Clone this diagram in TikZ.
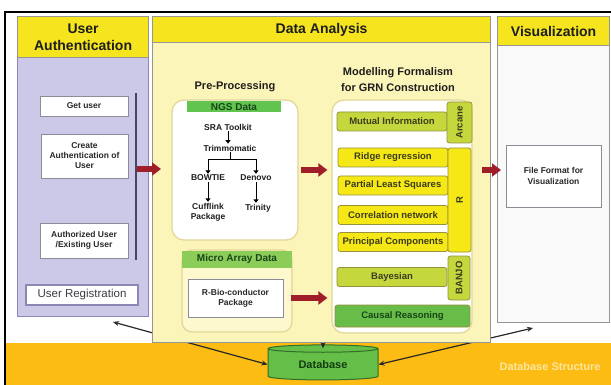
\documentclass[tikz,border=0pt]{standalone}
\usepackage{fontspec}
\setmainfont{Liberation Sans}
\usetikzlibrary{arrows.meta,shapes.geometric}

\begin{document}
\begin{tikzpicture}[x=1pt,y=1pt,yscale=-1,
    panel/.style={draw={rgb, 255:red, 150; green, 150; blue, 150}, line width=1.2pt, anchor=north west, inner sep=0pt},
    panelhead/.style={panel, fill={rgb, 255:red, 245; green, 228; blue, 30}, font=\fontsize{14}{17}\selectfont\bfseries, text={rgb, 255:red, 30; green, 30; blue, 30}, align=center},
    smallbox/.style={draw={rgb, 255:red, 140; green, 140; blue, 150}, fill=white, line width=0.8pt, inner sep=1pt, align=center, font=\fontsize{8.5}{10}\selectfont\bfseries, text={rgb, 255:red, 40; green, 40; blue, 40}},
    sectitle/.style={font=\fontsize{11}{16}\selectfont\bfseries, align=center, inner sep=0.75pt, text={rgb, 255:red, 30; green, 30; blue, 30}},
    treetext/.style={font=\fontsize{8.5}{10}\selectfont\bfseries, inner sep=1pt, align=center, text={rgb, 255:red, 30; green, 30; blue, 30}},
    treearrow/.style={line width=1pt, -{Triangle[length=3.5pt,width=5pt]}},
    roundbox/.style={draw={rgb, 255:red, 225; green, 214; blue, 150}, line width=1.2pt, rounded corners=12pt, fill=white, inner sep=0pt},
    databar/.style={inner sep=0pt, font=\fontsize{10}{11}\selectfont\bfseries, text={rgb, 255:red, 25; green, 70; blue, 25}},
    modelitem/.style={draw={rgb, 255:red, 150; green, 145; blue, 60}, line width=0.8pt, rounded corners=2.5pt, minimum width=110, minimum height=19, inner sep=0pt, font=\fontsize{9.5}{10}\selectfont\bfseries, text={rgb, 255:red, 60; green, 60; blue, 30}},
    yellowitem/.style={modelitem, fill={rgb, 255:red, 246; green, 232; blue, 22}},
    limeitem/.style={modelitem, fill={rgb, 255:red, 196; green, 216; blue, 62}},
    redarrow/.style={draw={rgb, 255:red, 160; green, 30; blue, 42}, line width=6.5pt, -{Triangle[length=9pt,width=13pt]}},
    dbline/.style={draw={rgb, 255:red, 40; green, 40; blue, 40}, line width=1.2pt},
    dbarrow/.style={dbline, -{Stealth[length=6pt,width=5pt]}},
    dbarrows/.style={dbline, {Stealth[length=6pt,width=5pt]}-{Stealth[length=6pt,width=5pt]}},
  ]
  \useasboundingbox (0,0) rectangle (611,385);

  %Shape: Rectangle [database band]
  \fill [fill={rgb, 255:red, 252; green, 188; blue, 20}] (5,343) rectangle (611,385);
  %Straight Lines [outer frame]
  \draw [line width=1.2pt] (5,385) -- (5,12) -- (611,12);

  % Database
  \node [cylinder, shape border rotate=90, aspect=0.15, draw={rgb, 255:red, 50; green, 110; blue, 40}, line width=1pt, fill={rgb, 255:red, 100; green, 190; blue, 72}, minimum width=110, minimum height=35, inner sep=0pt, font=\fontsize{11}{13}\selectfont\bfseries, text={rgb, 255:red, 20; green, 60; blue, 20}] (db) at (323,364.5) {Database};
  \node [font=\fontsize{11}{13}\selectfont\bfseries, text={rgb, 255:red, 253; green, 230; blue, 160}] (dbs) at (550,367) {Database Structure};

  \coordinate (authtip) at (113,322);
  \coordinate (vistip) at (533,328);
  \draw [dbarrows] (authtip) -- (db.west);
  \draw [dbarrows] (vistip) -- (db.east);

  %Shape: Panels
  \node [panel, draw={rgb, 255:red, 140; green, 135; blue, 180}, fill={rgb, 255:red, 204; green, 200; blue, 232}, minimum width=131, minimum height=300] (auth) at (17,16) {};
  \node [panelhead, minimum width=131, minimum height=41] (authhead) at (17,16) {User\\Authentication};
  \node [panel, fill={rgb, 255:red, 252; green, 245; blue, 185}, minimum width=338, minimum height=326] (ana) at (152,16) {};
  \node [panelhead, minimum width=338, minimum height=26] (anahead) at (152,16) {Data Analysis};
  \node [panel, fill={rgb, 255:red, 249; green, 249; blue, 249}, minimum width=112, minimum height=306] (vis) at (497,16) {};
  \node [panelhead, minimum width=112, minimum height=29] (vishead) at (497,16) {Visualization};

  % User authentication
  \coordinate (bartop) at (136,93);
  \coordinate (barbot) at (136,260);
  \draw [line width=2pt, draw={rgb, 255:red, 70; green, 70; blue, 100}] (bartop) -- (barbot);
  \node [smallbox, minimum width=88, minimum height=20] (getuser) at (84,106) {Get user};
  \node [smallbox, minimum width=87, minimum height=44] (create) at (84.5,156) {Create\\Authentication of\\User};
  \node [smallbox, minimum width=88, minimum height=35] (authorized) at (84,240.5) {Authorized User\\/Existing User};
  \node [smallbox, draw={rgb, 255:red, 140; green, 135; blue, 180}, line width=1.5pt, minimum width=112, minimum height=20, font=\fontsize{11.5}{13}\selectfont, text={rgb, 255:red, 60; green, 60; blue, 70}] (userreg) at (82,295) {User Registration};

  % Pre-processing
  \node [sectitle] (prep) at (235,87) {Pre-Processing};
  \node [roundbox, minimum width=126, minimum height=140] (ngs) at (235,170) {};
  \node [databar, fill={rgb, 255:red, 96; green, 196; blue, 78}, minimum width=94, minimum height=11] (ngsbar) at (234,107) {NGS Data};
  \node [treetext] (sra) at (228,127) {SRA Toolkit};
  \node [treetext] (trim) at (230,148) {Trimmomatic};
  \node [treetext] (bowtie) at (208,178) {BOWTIE};
  \node [treetext] (denovo) at (256,178) {Denovo};
  \node [treetext] (cuff) at (208,212) {Cufflink\\Package};
  \node [treetext] (trinity) at (258,208) {Trinity};
  \draw [treearrow] (sra.south) -- (sra.south |- trim.north);
  \draw [treearrow] (trim.south) -- ++(0,7) -| (bowtie.north);
  \draw [treearrow] (trim.south) -- ++(0,7) -| (denovo.north);
  \draw [treearrow] (bowtie.south) -- (cuff.north);
  \draw [treearrow] (denovo.south) -- (denovo.south |- trinity.north);

  \node [roundbox, rounded corners=10pt, fill={rgb, 255:red, 253; green, 248; blue, 205}, minimum width=110, minimum height=82] (micro) at (237,291) {};
  \node [databar, fill={rgb, 255:red, 140; green, 205; blue, 90}, minimum width=110, minimum height=17] (microbar) at (237,259) {Micro Array Data};
  \node [smallbox, minimum width=95, minimum height=38] (rbio) at (235.5,298) {R-Bio-conductor\\Package};

  % Modelling formalism
  \node [sectitle] (modeltitle) at (398,80) {Modelling Formalism\\for GRN Construction};
  \node [roundbox, minimum width=140, minimum height=233] (model) at (402,216.5) {};
  \node [limeitem] (mi) at (392,121.5) {Mutual Information};
  \node [limeitem, rotate=90, minimum width=41, minimum height=25] (arcane) at (459.5,122.5) {Arcane};
  \node [yellowitem] (ridge) at (393,157.5) {Ridge regression};
  \node [yellowitem] (pls) at (393,185.5) {Partial Least Squares};
  \node [yellowitem] (corr) at (393,215) {Correlation network};
  \node [yellowitem] (pc) at (393,242) {Principal Components};
  \node [yellowitem, rotate=90, minimum width=104, minimum height=23] (rpkg) at (459.5,200) {R};
  \node [limeitem] (bayes) at (392,277) {Bayesian};
  \node [limeitem, rotate=90, minimum width=44, minimum height=22] (banjo) at (459,278) {BANJO};
  \node [modelitem, fill={rgb, 255:red, 104; green, 188; blue, 72}, minimum width=135, minimum height=22, text={rgb, 255:red, 25; green, 70; blue, 25}] (causal) at (402.5,316) {Causal Reasoning};

  % Visualization
  \node [smallbox, minimum width=95, minimum height=62, font=\fontsize{8.5}{11}\selectfont\bfseries] (fileformat) at (553.5,176) {File Format for\\Visualization};

  % Red arrows
  \coordinate (authout) at (137,169);
  \draw [redarrow] (authout) -- ([xshift=9pt]authout -| ana.west);
  \draw [redarrow] ([xshift=2pt]ngs.east) -- ([xshift=-4pt]ngs.east -| model.west);
  \draw [redarrow] ([xshift=-2pt]micro.east |- rbio) -- ([xshift=-4pt]rbio -| model.west);
  \draw [redarrow] ([xshift=-9pt]ana.east |- ngs.east) -- ([xshift=4pt]vis.west |- ngs.east);
  \draw [dbarrow, shorten >=-4pt] (ana.south -| db.north) -- (db.north);

\end{tikzpicture}
\end{document}
